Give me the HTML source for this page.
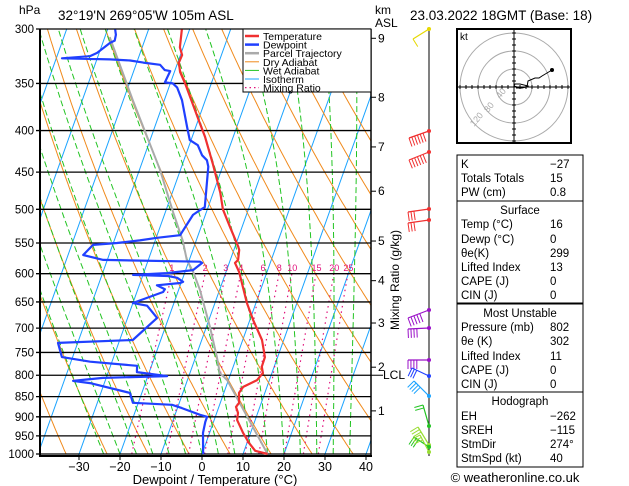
<!DOCTYPE html>
<html><head><meta charset="utf-8"><style>
html,body{margin:0;padding:0;background:#fff;width:629px;height:486px;overflow:hidden}
svg{display:block;font-family:"Liberation Sans",sans-serif}
</style></head><body>
<svg id="c" width="629" height="486" viewBox="0 0 629 486">
<defs><clipPath id="pc"><rect x="40" y="29" width="331" height="427"/></clipPath></defs>
<g id="bg" clip-path="url(#pc)"></g>
<g id="plines"></g>
<g id="series" clip-path="url(#pc)"></g>
<g id="frame">
<line x1="40" y1="29" x2="40" y2="457" stroke="#000" stroke-width="2"/>
<line x1="39" y1="456" x2="372" y2="456" stroke="#000" stroke-width="2"/>
<line x1="371" y1="29" x2="371" y2="457" stroke="#000" stroke-width="1.5"/>
<line x1="40" y1="29" x2="371" y2="29" stroke="#000" stroke-width="1"/>
</g>
<g id="legend">
<rect x="243" y="29" width="128" height="63" fill="#fff" stroke="#000" stroke-width="1"/>
</g>
<g font-size="12" fill="#000">
<text x="19" y="14">hPa</text>
<text x="58" y="20" font-size="13.5">32°19'N  269°05'W  105m  ASL</text>
<text x="375" y="14">km</text>
<text x="375" y="27">ASL</text>
<text x="410" y="20" font-size="13.5">23.03.2022  18GMT  (Base: 18)</text>
<text x="215" y="484" text-anchor="middle" font-size="13">Dewpoint / Temperature (°C)</text>
<text transform="translate(399,330) rotate(-90)" font-size="12">Mixing Ratio (g/kg)</text>
</g>
<g id="yt" font-size="11.5"></g>
<g id="xt" font-size="12.5"></g>
<g id="km" font-size="12"></g>
<g id="winds">
<line x1="429" y1="29" x2="429" y2="456" stroke="#000" stroke-width="1"/>
</g>
<g id="hodo">
<rect x="457" y="29" width="114" height="114" fill="#fff" stroke="#000" stroke-width="2"/>
<text x="460" y="40" font-size="10">kt</text>
</g>
<g id="tables" font-size="11.5"></g>
<text x="515" y="482" text-anchor="middle" font-size="13">© weatheronline.co.uk</text>
</svg>
<script>
// ---- data ----
const tempP=[300,316,323,330,339,350,392,407,439,477,500,526,556,561,577,582,597,652,684,724,760,781,795,811,827,841,865,875,890,908,942,969,991,1000];
const tempT=[-41.9,-40.8,-39.6,-39.7,-38.6,-36.4,-29.3,-26.9,-22.7,-18.3,-16.2,-12.9,-9.2,-8.7,-8.1,-8.6,-6.8,-2.2,0.8,4.7,6.9,7.0,7.8,7.0,4.2,3.7,4.6,4.2,5.2,5.6,8.2,10.5,12.7,16.0];
const dewP=[300,305,310,312,321,324,326,327,328,330,332,337,338,345,349,350,354,367,396,411,417,429,435,443,497,501,508,538,542,546,550,553,569,577,580,582,594,599,602,604,607,614,616,620,627,632,652,657,680,724,730,760,770,779,793,802,806,813,818,841,865,870,878,895,900,913,942,991,1000];
const dewT=[-58.2,-57.5,-57.3,-58.2,-60.5,-62.0,-68.6,-56.8,-51.8,-48.4,-44.1,-42.5,-41.1,-41.3,-41.4,-39.4,-38.0,-35.7,-32.1,-30.3,-27.9,-26.0,-24.4,-23.5,-20.8,-21.7,-23.0,-24.4,-29.8,-33.8,-39.1,-44.8,-46.3,-41.0,-17.2,-16.6,-18.2,-24.3,-32.4,-23.8,-21.4,-19.6,-20.2,-25.7,-23.4,-23.6,-30.0,-26.3,-22.8,-26.8,-44.8,-42.6,-35.3,-23.5,-23.0,-15.3,-30.8,-37.8,-33.5,-22.9,-21.3,-11.6,-8.9,-3.9,-2.0,-2.0,-1.6,0,0.3];
const parcelP=[1000,811,795,760,698,628,597,577,546,505,447,367,307];
const parcelT=[16,-0.3,-2.7,-4.8,-9.1,-14.8,-18.0,-20.6,-23.3,-28.0,-35.0,-47.7,-58.8];
const pressureTicks=[300,350,400,450,500,550,600,650,700,750,800,850,900,950,1000];
const tempTicks=[-30,-20,-10,0,10,20,30,40];
const kmTicks=[9,8,7,6,5,4,3,2,1];
const kmP=[308,364,419,475,547,612,690,782,885];
const mixRatios=[1,2,3,4,6,8,10,15,20,25];
const isotherms=[-110,-100,-90,-80,-70,-60,-50,-40,-30,-20,-10,0,10,20,30,40];
const dryThetas=[230,240,250,260,270,280,290,300,310,320,330,340,350,360,370,380,390,400,410,420,430,440,450,460];
const wetThetas=[-24,-20,-16,-12,-8,-4,0,4,8,12,16,20,24,28,32,36];
const tableLabels=["K","Totals Totals","PW (cm)","Surface","Temp (°C)","Dewp (°C)","θe(K)","Lifted Index","CAPE (J)","CIN (J)","Most Unstable","Pressure (mb)","θe (K)","Lifted Index","CAPE (J)","CIN (J)","Hodograph","EH","SREH","StmDir","StmSpd (kt)"];
const tableValues=["-27","15","0.8","","16","0","299","13","0","0","","802","302","11","0","0","","-262","-115","274°","40"];

// ---- scales ----
const yP=p=>29+353*Math.log(p/300);
const xT=(t,p)=>202+4.1*t+0.357*(454-yP(p));
const NS="http://www.w3.org/2000/svg";
function mk(tag,attrs,parent){const e=document.createElementNS(NS,tag);for(const k in attrs)e.setAttribute(k,attrs[k]);parent.appendChild(e);return e;}
function path(pts){return pts.map((q,i)=>(i?"L":"M")+q[0].toFixed(1)+" "+q[1].toFixed(1)).join("");}
const bg=document.getElementById("bg");
const plist=[];for(let p=1000;p>=290;p-=5)plist.push(p);

// isotherms
isotherms.forEach(t=>{
 const e=mk("path",{d:path([[xT(t,1050),yP(1050)],[xT(t,290),yP(290)]]),stroke:"#1aa3ff","stroke-width":1,fill:"none"},bg);
 
 
});
// dry adiabats
dryThetas.forEach(th=>{
 const pts=plist.map(p=>[xT(th*Math.pow(p/1000,0.286)-273.15,p),yP(p)]);
 const e=mk("path",{d:path(pts),stroke:"#f08a1c","stroke-width":1,fill:"none"},bg);
 
 
});
// wet adiabats
function es(tc){return 6.112*Math.exp(17.67*tc/(tc+243.5));}
wetThetas.forEach(t0=>{
 let T=t0+273.15;const pts=[];
 for(let p=1000;p>=290;p-=5){
  pts.push([xT(T-273.15,p),yP(p)]);
  const e=es(T-273.15),rs=0.622*e/(p-e);
  const dTdp=(287*T+2.5e6*rs)/(p*(1004+2.5e6*2.5e6*rs*0.622/(287*T*T)));
  T-=dTdp*5;
 }
 const e=mk("path",{d:path(pts),stroke:"#22c422","stroke-width":1,fill:"none","stroke-dasharray":"6 3"},bg);
 
 
});
// mixing ratio
mixRatios.forEach(w=>{
 const pts=[];
 for(let p=1000;p>=600;p-=10){const e=w*p/(622+w),l=Math.log(e/6.112);pts.push([xT(243.5*l/(17.67-l),p),yP(p)]);}
 const e=mk("path",{d:path(pts),stroke:"#e0107a","stroke-width":1.2,fill:"none","stroke-dasharray":"1.5 4"},bg);
 
 
 const p=615,ev=w*p/(622+w),l=Math.log(ev/6.112);
 const tx=mk("text",{x:xT(243.5*l/(17.67-l),p)+2,y:271,"font-size":9,fill:"#e0107a","text-anchor":"middle"},bg);
 tx.textContent=w;
 
 
});
// pressure lines + ticks
const pl=document.getElementById("plines"),yt=document.getElementById("yt");
pressureTicks.forEach(p=>{
 const y=yP(p);
 const l=mk("line",{x1:36,y1:y,x2:371,y2:y,stroke:"#000","stroke-width":1.3},pl);
 
 
 const t=mk("text",{x:34,y:y+4,"text-anchor":"end"},yt);
 t.textContent=p;
 
 
});
const xt=document.getElementById("xt");
tempTicks.forEach(t=>{
 const x=202+4.1*t;
 const tk=mk("line",{x1:x,y1:456,x2:x,y2:460,stroke:"#000"},xt);
 
 
 const tx=mk("text",{x:x,y:471,"text-anchor":"middle"},xt);
 tx.textContent=t<0?"\u2212"+(-t):t;
 
 
});
const km=document.getElementById("km");
kmTicks.forEach((k,i)=>{
 const y=yP(kmP[i]);
 const tk=mk("line",{x1:371,y1:y,x2:376,y2:y,stroke:"#000"},km);
 
 
 const tx=mk("text",{x:378,y:y+4},km);
 tx.textContent=k;
 
 
});
const lcl=mk("text",{x:383,y:yP(800)+4,"font-size":12},km);
lcl.textContent="LCL";


mk("line",{x1:371,y1:yP(800),x2:383,y2:yP(800),stroke:"#000"},km);

// series
const ser=document.getElementById("series");
function drawSeries(P,T,color,w,name){
 const e=mk("path",{d:path(P.map((p,i)=>[xT(T[i],p),yP(p)])),stroke:color,"stroke-width":w,fill:"none","stroke-linejoin":"round"},ser);
 
 
}
drawSeries(parcelP,parcelT,"#aaaaaa",2,"parcel-trajectory-line");
drawSeries(dewP,dewT,"#2040ff",2.2,"dewpoint-line");
drawSeries(tempP,tempT,"#f03030",2.2,"temperature-line");

// legend
const lg=document.getElementById("legend");
const legItems=[["Temperature","#f03030",2.5,""],["Dewpoint","#2040ff",2.5,""],["Parcel Trajectory","#aaaaaa",2.5,""],["Dry Adiabat","#f08a1c",1,""],["Wet Adiabat","#22c422",1,""],["Isotherm","#1aa3ff",1,""],["Mixing Ratio","#e0107a",1.2,"1.5 3"]];
legItems.forEach((it,i)=>{
 const y=36+i*8.6;
 const ln=mk("line",{x1:245,y1:y,x2:259,y2:y,stroke:it[1],"stroke-width":it[2],"stroke-dasharray":it[3]},lg);
 
 
 const t=mk("text",{x:263,y:y+4,"font-size":10.5},lg);
 t.textContent=it[0];
 
 
});

// wind barbs
const wd=document.getElementById("winds");
const barbs=[[29,"#e6d800",413,39,1],[131,"#f03030",409,138,6],[152,"#f03030",409,160,6],[209,"#f03030",408,212,3],[220,"#f03030",408,223,3],[310,"#9a10c8",408,318,5],[328,"#9a10c8",408,329,4],[360,"#9a10c8",408,360,4],[376,"#2040ff",412,368,3],[396,"#1aa3ff",414,381,4],[426,"#22c422",423,405,2],[445,"#99dd33",418,427,3],[447,"#22c422",414,437,3],[452,"#99dd33",420,435,3]];
barbs.forEach(b=>{
 const g=mk("g",{},wd);
 
 
 mk("line",{x1:429,y1:b[0],x2:b[2],y2:b[3],stroke:b[1],"stroke-width":1.2},g);
 const dx=b[2]-429,dy=b[3]-b[0],L=Math.hypot(dx,dy),ux=dx/L,uy=dy/L;
 for(let k=0;k<b[4];k++){
  const f=1-k*0.14,px=429+dx*f,py=b[0]+dy*f;
  mk("line",{x1:px,y1:py,x2:px+uy*9,y2:py-ux*9,stroke:b[1],"stroke-width":1},g);
 }
 mk("circle",{cx:429,cy:b[0],r:2,fill:b[1]},g);
});

// hodograph
const ho=document.getElementById("hodo");
[18,36,54].forEach(r=>{const c=mk("circle",{cx:514,cy:87,r:r,fill:"none",stroke:"#aaa"},ho);});
mk("line",{x1:458,y1:87,x2:570,y2:87,stroke:"#000"},ho);
mk("line",{x1:514,y1:30,x2:514,y2:142,stroke:"#000"},ho);
for(let i=-9;i<=9;i++){if(!i)continue;const d=i*6;mk("line",{x1:514+d,y1:85,x2:514+d,y2:89,stroke:"#000"},ho);mk("line",{x1:512,y1:87+d,x2:516,y2:87+d,stroke:"#000"},ho);}
[["40",500,99],["80",488,113],["120",474,127]].forEach(a=>{const t=mk("text",{x:a[1],y:a[2],"font-size":9,fill:"#aaa",transform:"rotate(-50 "+a[1]+" "+a[2]+")"},ho);t.textContent=a[0];});
const hodoU=[2,8,12,14,6,1,0,3,13,14,21,25,28,33,38];
const hodoV=[-1,-1,0,1,3,3,1,0,0,6,9,9,11,14,17];
const hp=mk("path",{d:path(hodoU.map((u,i)=>[514+u,87-hodoV[i]])),stroke:"#000",fill:"none","stroke-width":1},ho);


mk("circle",{cx:552,cy:70,r:2,fill:"#000"},ho);

// tables
const tb=document.getElementById("tables");
[[155,201],[201,303],[304,392],[392,467]].forEach(r=>{const e=mk("rect",{x:457,y:r[0],width:126,height:r[1]-r[0],fill:"#fff",stroke:"#000","stroke-width":1},tb);});
const rowY=[168,182,196,214,228,243,257,271,285,299,317,331,345,360,374,388,405,420,434,448,462];
tableLabels.forEach((lab,i)=>{
 const hdr=tableValues[i]==="";
 const t=mk("text",{x:hdr?520:461,y:rowY[i],"text-anchor":hdr?"middle":"start"},tb);
 t.textContent=lab;
 
 
 if(!hdr){
  const v=mk("text",{x:550,y:rowY[i]},tb);
  v.textContent=tableValues[i].replace("-","\u2212");
  
  
 }
});
</script>
</body></html>
